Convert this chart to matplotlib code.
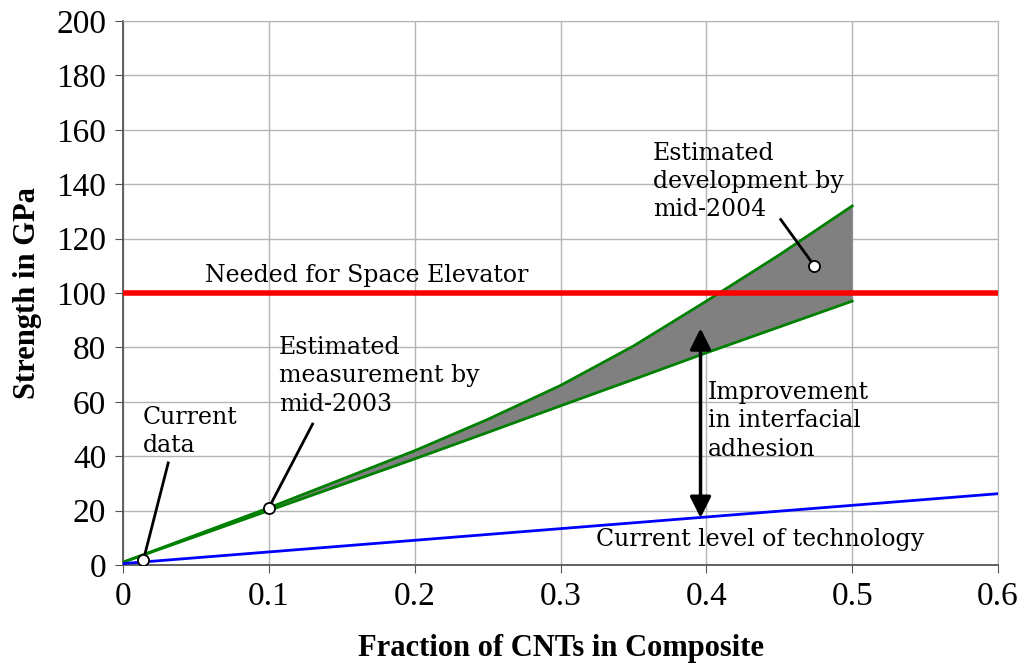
import matplotlib
matplotlib.use("Agg")
import matplotlib.pyplot as plt
import numpy as np

# data
frac = [0.0, 0.1, 0.2, 0.25, 0.3, 0.35, 0.4, 0.45, 0.5]
upper = [1.0, 21.0, 42.0, 53.5, 66.0, 80.5, 97.0, 114.0, 132.0]
lower = [1.0, 20.0, 39.0, 48.7, 58.5, 68.2, 78.0, 87.5, 97.0]
tech_x = [0.0, 0.6]
tech_y = [0.5, 26.2]
needed = 100
pts_x = [0.014, 0.1, 0.474]
pts_y = [1.8, 21.0, 110.0]

plt.rcParams['font.family'] = 'Liberation Serif'
note_font = dict(family='DejaVu Serif', size=17, color='black')

fig = plt.figure(figsize=(10.25, 6.67), dpi=100)
ax = fig.add_axes([0.12, 0.153, 0.8537, 0.8155])

ax.fill_between(frac, lower, upper, color='#808080', lw=0, zorder=2)
ax.plot(frac, upper, color='#008000', lw=2, zorder=3)
ax.plot(frac, lower, color='#008000', lw=2, zorder=3)
ax.plot(tech_x, tech_y, color='#0000ff', lw=2, zorder=3)
ax.axhline(needed, color='#ff0000', lw=4, zorder=4)

# leader lines
ax.plot([pts_x[0], 0.031], [pts_y[0], 37.5], color='black', lw=2, zorder=5)
ax.plot([pts_x[1], 0.130], [pts_y[1], 51.8], color='black', lw=2, zorder=5)
ax.plot([pts_x[2], 0.451], [pts_y[2], 127.0], color='black', lw=2, zorder=5)
ax.plot(pts_x, pts_y, 'o', ms=8, mfc='white', mec='black', mew=1.3, zorder=6)

# double arrow
ax.annotate('', xy=(0.396, 87), xytext=(0.396, 17.3),
            arrowprops=dict(arrowstyle='<|-|>', color='black', lw=2.5,
                            mutation_scale=32, shrinkA=0, shrinkB=0), zorder=6)

ax.text(0.056, 106.5, 'Needed for Space Elevator', va='center', **note_font)
ax.text(0.0137, 49, 'Current\ndata', va='center', linespacing=1.3, **note_font)
ax.text(0.107, 69.5, 'Estimated\nmeasurement by\nmid-2003', va='center', linespacing=1.3, **note_font)
ax.text(0.3635, 141, 'Estimated\ndevelopment by\nmid-2004', va='center', linespacing=1.3, **note_font)
ax.text(0.401, 53, 'Improvement\nin interfacial\nadhesion', va='center', linespacing=1.3, **note_font)
ax.text(0.324, 9.5, 'Current level of technology', va='center', **note_font)

ax.set_xlim(0, 0.6)
ax.set_ylim(0, 200)
ax.set_xticks(np.arange(0, 0.61, 0.1))
ax.set_xticklabels(['0', '0.1', '0.2', '0.3', '0.4', '0.5', '0.6'])
ax.set_yticks(np.arange(0, 201, 20))
ax.tick_params(labelsize=24, direction='out', length=6, color='#555555', pad=6)
ax.grid(True, color='#b4b4b4', lw=1)
ax.set_axisbelow(True)
for s in ['top', 'right']:
    ax.spines[s].set_color('#b4b4b4')
for s in ['left', 'bottom']:
    ax.spines[s].set_color('#555555')
    ax.spines[s].set_linewidth(1.3)

ax.set_xlabel('Fraction of CNTs in Composite', fontsize=22, fontweight='bold', labelpad=16)
ax.set_ylabel('Strength in GPa', fontsize=22, fontweight='bold')
ax.yaxis.set_label_coords(-0.092, 0.5)

fig.savefig('out.png', dpi=100)
